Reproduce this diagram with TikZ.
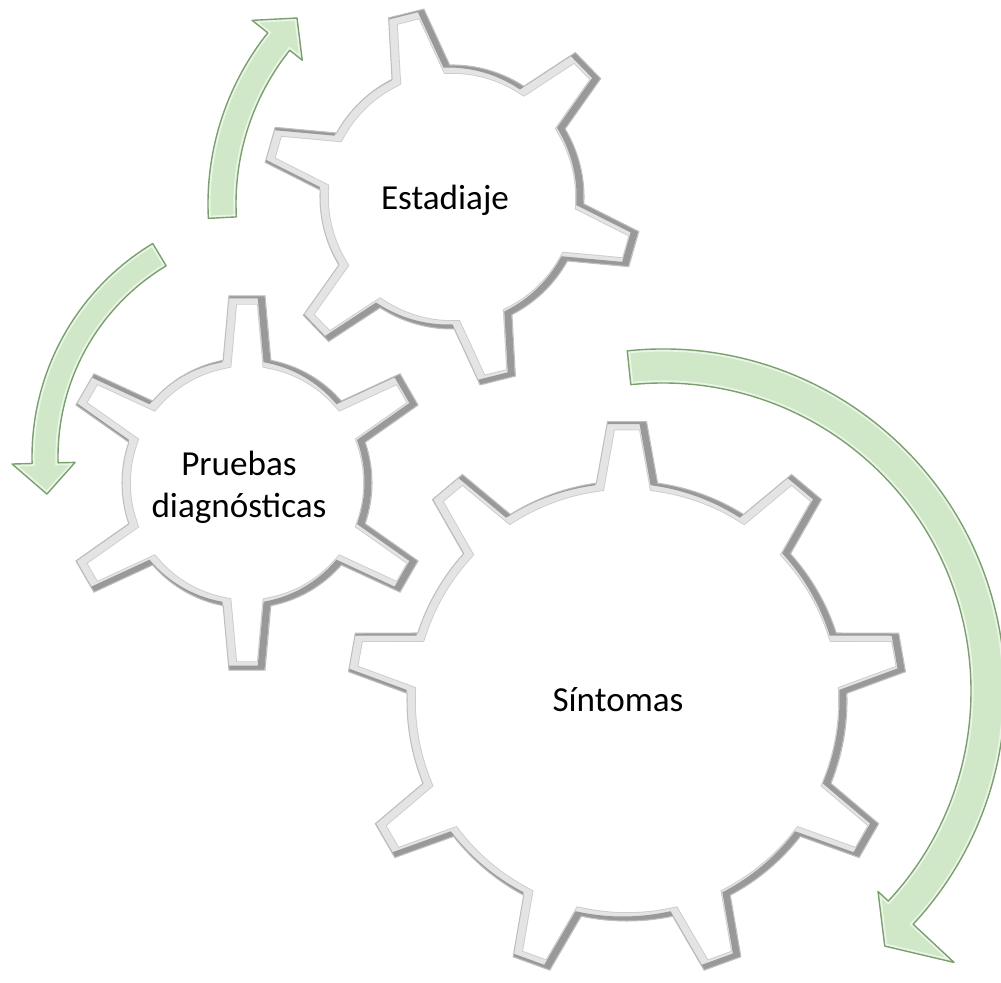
\documentclass[tikz,border=0pt]{standalone}
\usepackage{fontspec}
\setmainfont{Carlito}
\usetikzlibrary{calc}
\definecolor{arrowfill}{RGB}{208,232,199}
\definecolor{arrowedge}{RGB}{122,160,112}
\definecolor{rimgray}{RGB}{228,228,228}
% gear outline: teeth, root radius, tip radius, root half angle, tip half angle, offset
\newcommand{\gearpath}[6]{({#6+#4}:#2)
  \foreach \k in {1,...,#1}{
    arc[start angle={#6+360*(\k-1)/#1+#4}, end angle={#6+360*\k/#1-#4}, radius=#2]
    -- ({#6+360*\k/#1-#5}:#3) -- ({#6+360*\k/#1+#5}:#3) -- ({#6+360*\k/#1+#4}:#2)
  } -- cycle}
\newcommand{\drawgear}[7]{%
  \begin{scope}[shift={#1}]
    \fill[white] \gearpath{#2}{#3}{#4}{#5}{#6}{#7};
    \begin{scope}
      \clip \gearpath{#2}{#3}{#4}{#5}{#6}{#7};
      \draw[gear inner] \gearpath{#2}{#3}{#4}{#5}{#6}{#7};
      \draw[gear band] \gearpath{#2}{#3}{#4}{#5}{#6}{#7};
      \draw[gear shade] \gearpath{#2}{#3}{#4}{#5}{#6}{#7};
    \end{scope}
    \draw[gear edge] \gearpath{#2}{#3}{#4}{#5}{#6}{#7};
  \end{scope}}
% curved arrow: centre, radius, half width, start, head base, barb in, barb out, tip angle, tip radius
\newcommand{\arrowpath}[8]{({#3}:{#1+#2}) arc[start angle=#3, end angle=#4, radius={#1+#2}]
      -- ({#4}:{#6}) -- ({#7}:{#8}) -- ({#4}:{#5}) -- ({#4}:{#1-#2})
      arc[start angle=#4, end angle=#3, radius={#1-#2}] -- cycle}
\newcommand{\cyclearrow}[9]{%
  \begin{scope}[shift={#1}]
    \fill[arrowfill] \arrowpath{#2}{#3}{#4}{#5}{#6}{#7}{#8}{#9};
    \begin{scope}
      \clip \arrowpath{#2}{#3}{#4}{#5}{#6}{#7}{#8}{#9};
      \draw[arrow light] \arrowpath{#2}{#3}{#4}{#5}{#6}{#7}{#8}{#9};
    \end{scope}
    \draw[arrow edge] \arrowpath{#2}{#3}{#4}{#5}{#6}{#7}{#8}{#9};
  \end{scope}}

\begin{document}
\begin{tikzpicture}[x=0.02cm,y=0.02cm,
    gear inner/.style={line width=10pt,black!20},
    gear band/.style={line width=9pt,rimgray},
    gear shade/.style={line width=4pt,black!40,shift={(-4,1)}},
    gear edge/.style={line width=0.6pt,black!25},
    arrow light/.style={line width=3pt,white!55!arrowfill},
    arrow edge/.style={draw=arrowedge,line width=0.8pt,line join=round},
    label text/.style={font=\fontsize{20}{24}\selectfont,align=center,inner sep=0pt}]
  \useasboundingbox (0,0) rectangle (1001,983);

  % gears
  \drawgear{(627,282)}{9}{220}{280}{8}{4}{10}
  \drawgear{(247,500)}{6}{125}{188}{11}{5.5}{30}
  \drawgear{(452,786)}{6}{132}{190}{13}{5.5}{-16}

  % arrows round the gears
  \cyclearrow{(483,779)}{261}{14}{183}{141.5}{231}{295}{135}{263}
  \cyclearrow{(281,526)}{236}{13}{121}{181.5}{206}{269}{189}{237}
  \cyclearrow{(663,292)}{325}{17}{96}{-43}{294}{398}{-49}{338}

  \node[label text,anchor=base] (estadiaje) at (445,773) {Estadiaje};
  \node[label text] (pruebas) at (239,496) {Pruebas\\diagnósticas};
  \node[label text,anchor=base] (sintomas) at (618,271) {Síntomas};
\end{tikzpicture}
\end{document}
